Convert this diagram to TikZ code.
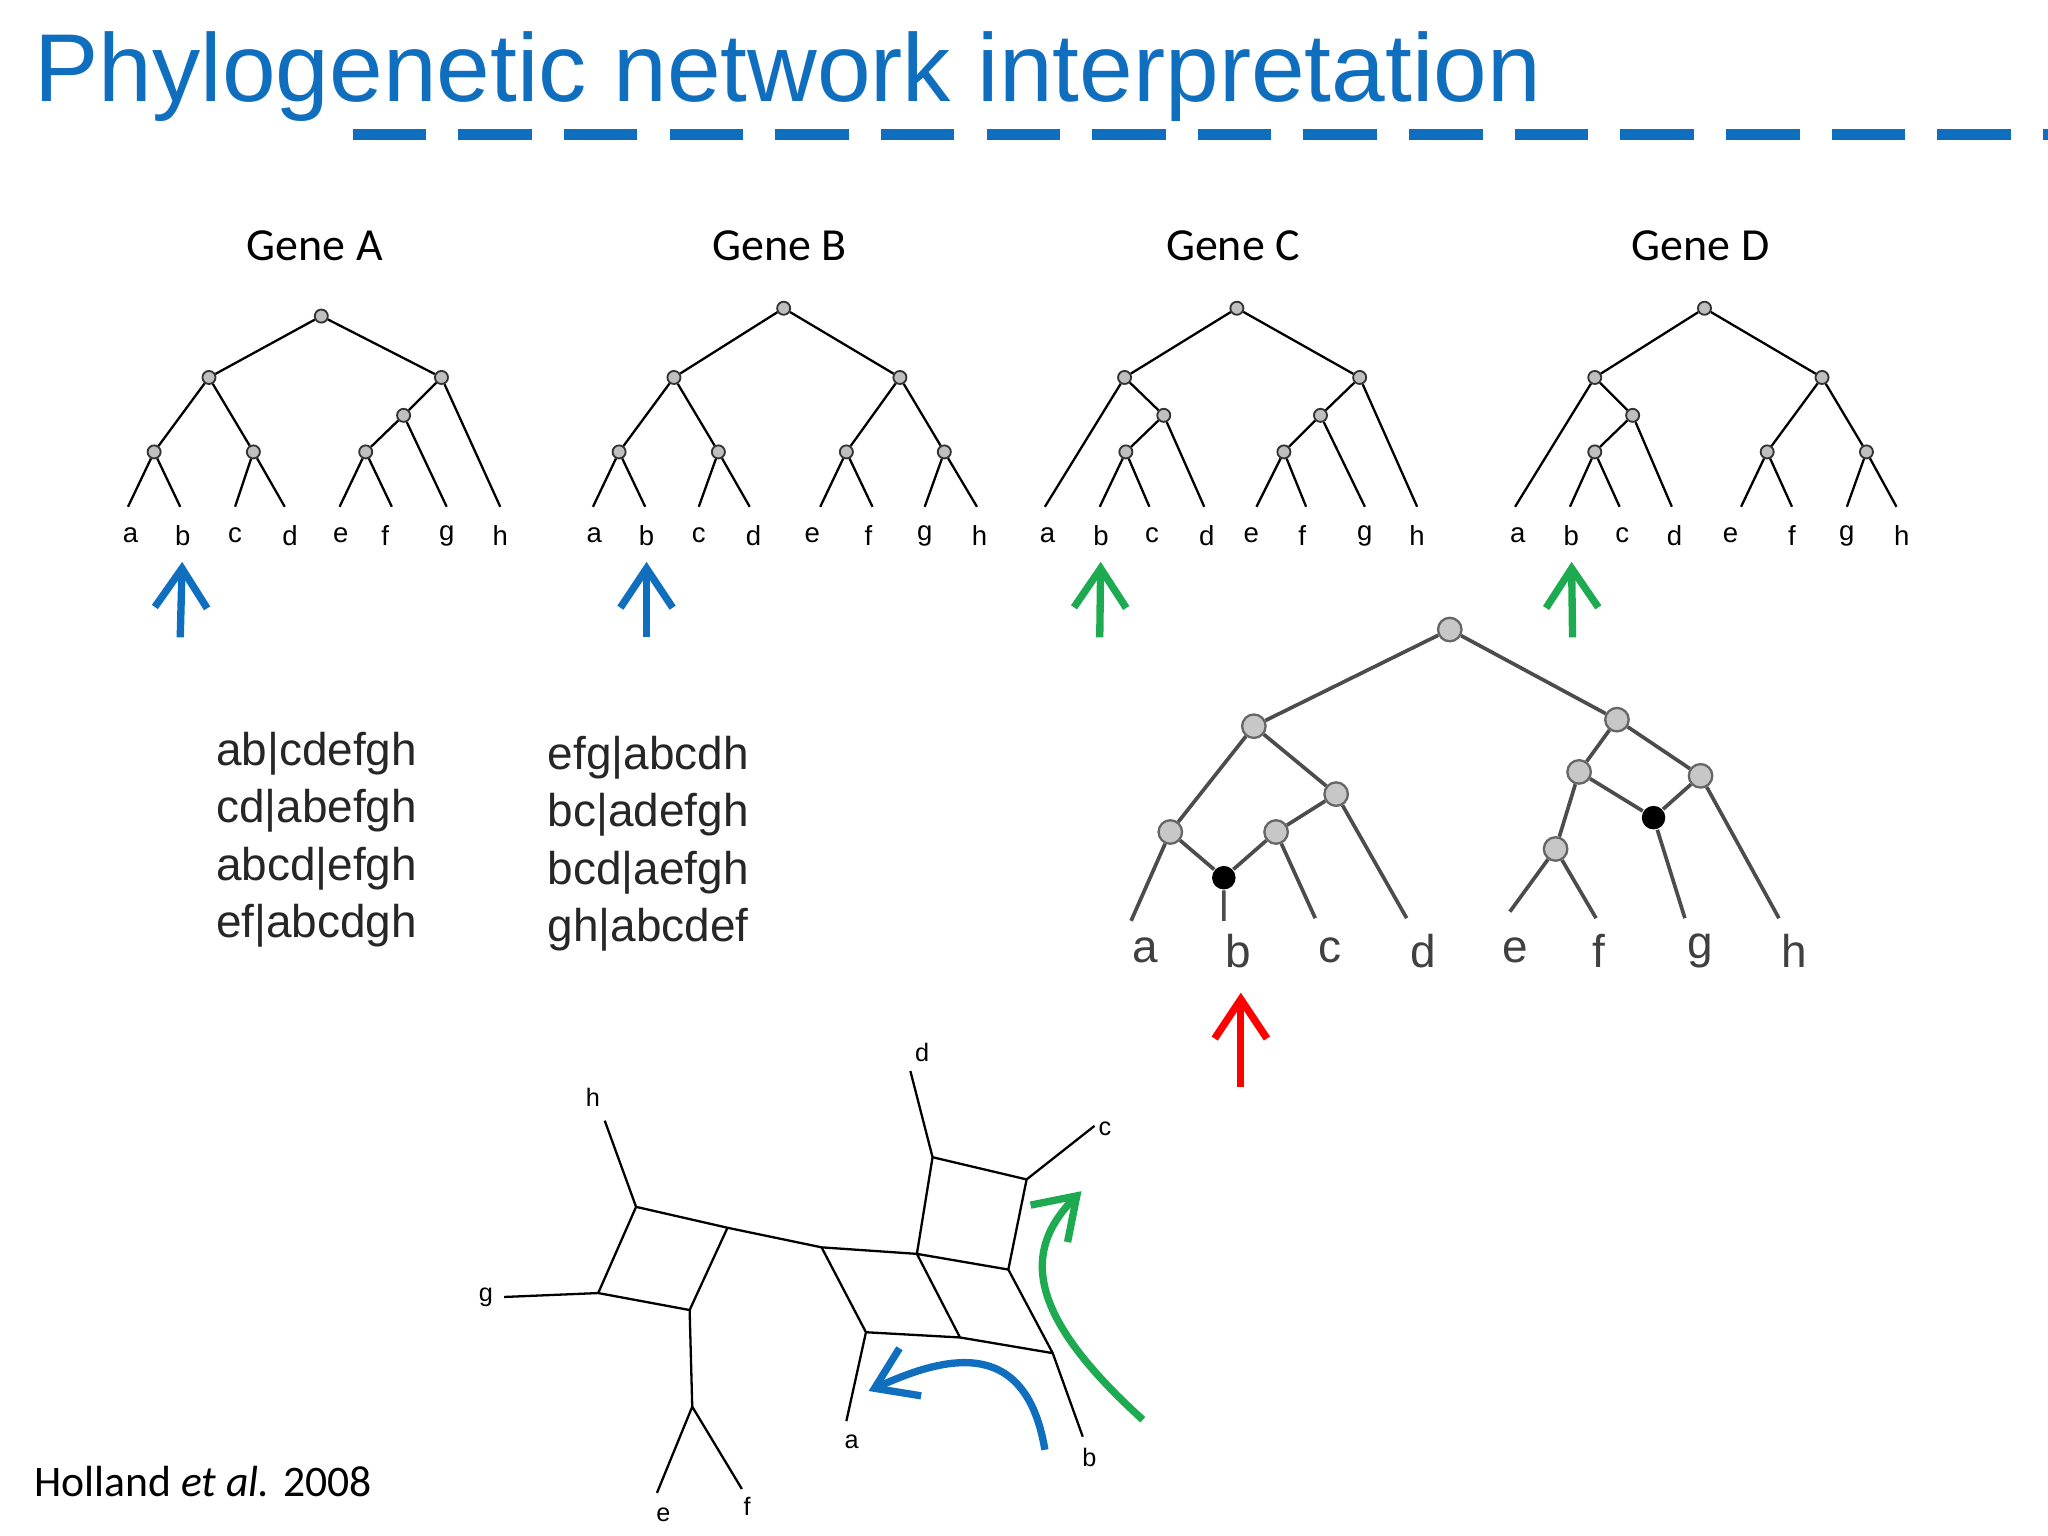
\documentclass[tikz,border=0pt]{standalone}
\usepackage{fontspec}
\setmainfont{Liberation Sans}
\newfontfamily\carl{Carlito}
\usetikzlibrary{arrows.meta}
\definecolor{tblue}{RGB}{16,110,190}
\definecolor{tgreen}{RGB}{30,170,80}
\begin{document}
\begin{tikzpicture}[x=0.01cm,y=-0.01cm,
 sn/.style={circle,draw=black!80,fill=black!25,inner sep=0,minimum size=10*0.01cm,line width=0.4pt},
 bn/.style={circle,draw=black!60,fill=black!22,inner sep=0,minimum size=18*0.01cm,line width=0.5pt},
 kn/.style={circle,fill=black,inner sep=0,minimum size=18*0.01cm},
 e/.style={line width=0.5pt},
 be/.style={line width=0.8pt,black!70},
 lf/.style={font=\fontsize{6}{7}\selectfont},
 blf/.style={font=\fontsize{10}{12}\selectfont},
 nl/.style={font=\fontsize{5.5}{6}\selectfont},
 up/.style={-{Straight Barb[length=3mm,width=4mm]},line width=1.6pt}]
\useasboundingbox (0,0) rectangle (1568,1176);
\node[anchor=base west,text=tblue,font=\fontsize{21}{24}\selectfont] (title) at (14,78) {Phylogenetic network interpretation};
\coordinate (dl1) at (270,103); \coordinate (dl2) at (1568,103);
\draw[tblue,line width=2.5pt,dash pattern=on 16pt off 7pt] (dl1)--(dl2);
\foreach \n/\x in {A/241,B/597,C/944,D/1302}
  \node[font=\carl\fontsize{10}{12}\selectfont] (g\n) at (\x,188) {Gene \n};
% Gene A
\node[sn] (A0) at (246,242) {}; \node[sn] (A1) at (160,289) {}; \node[sn] (A2) at (338,289) {};
\node[sn] (A3) at (118,346) {}; \node[sn] (A4) at (194,346) {}; \node[sn] (A5) at (309,318) {}; \node[sn] (A6) at (280,346) {};
\foreach \l/\x in {a/98,b/138,c/180,d/218,e/260,f/300,g/342,h/383} \coordinate (Al\l) at (\x,388);
\draw[e] (A0)--(A1) (A0)--(A2) (A1)--(A3) (A1)--(A4) (A3)--(Ala) (A3)--(Alb) (A4)--(Alc) (A4)--(Ald)
 (A2)--(A5) (A2)--(Alh) (A5)--(A6) (A5)--(Alg) (A6)--(Ale) (A6)--(Alf);
\foreach \l/\x in {a/100,b/140,c/180,d/222,e/261,f/295,g/342,h/383} \node[lf] (Ax\l) at (\x,410) {\l};
% Gene B
\node[sn] (B0) at (600,236) {}; \node[sn] (B1) at (516,289) {}; \node[sn] (B2) at (689,289) {};
\node[sn] (B3) at (474,346) {}; \node[sn] (B4) at (550,346) {}; \node[sn] (B5) at (648,346) {}; \node[sn] (B6) at (723,346) {};
\foreach \l/\x in {a/454,b/494,c/535,d/574,e/628,f/668,g/708,h/748} \coordinate (Bl\l) at (\x,388);
\draw[e] (B0)--(B1) (B0)--(B2) (B1)--(B3) (B1)--(B4) (B3)--(Bla) (B3)--(Blb) (B4)--(Blc) (B4)--(Bld)
 (B2)--(B5) (B2)--(B6) (B5)--(Ble) (B5)--(Blf) (B6)--(Blg) (B6)--(Blh);
\foreach \l/\x in {a/455,b/495,c/535,d/577,e/622,f/665,g/708,h/750} \node[lf] (Bx\l) at (\x,410) {\l};
% Gene C
\node[sn] (C0) at (947,236) {}; \node[sn] (C1) at (861,289) {}; \node[sn] (C2) at (1041,289) {};
\node[sn] (C3) at (891,318) {}; \node[sn] (C4) at (862,346) {}; \node[sn] (C5) at (1011,318) {}; \node[sn] (C6) at (983,346) {};
\foreach \l/\x in {a/800,b/842,c/880,d/922,e/962,f/1000,g/1045,h/1085} \coordinate (Cl\l) at (\x,388);
\draw[e] (C0)--(C1) (C0)--(C2) (C1)--(Cla) (C1)--(C3) (C3)--(C4) (C3)--(Cld) (C4)--(Clb) (C4)--(Clc)
 (C2)--(C5) (C2)--(Clh) (C5)--(C6) (C5)--(Clg) (C6)--(Cle) (C6)--(Clf);
\foreach \l/\x in {a/802,b/843,c/882,d/924,e/958,f/997,g/1045,h/1085} \node[lf] (Cx\l) at (\x,410) {\l};
% Gene D
\node[sn] (D0) at (1305,236) {}; \node[sn] (D1) at (1221,289) {}; \node[sn] (D2) at (1395,289) {};
\node[sn] (D3) at (1250,318) {}; \node[sn] (D4) at (1221,346) {}; \node[sn] (D5) at (1353,346) {}; \node[sn] (D6) at (1429,346) {};
\foreach \l/\x in {a/1160,b/1202,c/1240,d/1280,e/1333,f/1372,g/1414,h/1452} \coordinate (Dl\l) at (\x,388);
\draw[e] (D0)--(D1) (D0)--(D2) (D1)--(Dla) (D1)--(D3) (D3)--(D4) (D3)--(Dld) (D4)--(Dlb) (D4)--(Dlc)
 (D2)--(D5) (D2)--(D6) (D5)--(Dle) (D5)--(Dlf) (D6)--(Dlg) (D6)--(Dlh);
\foreach \l/\x in {a/1162,b/1203,c/1242,d/1282,e/1325,f/1372,g/1414,h/1456} \node[lf] (Dx\l) at (\x,410) {\l};
% arrows
\coordinate (u1) at (138,488); \coordinate (u2) at (495,488); \coordinate (u3) at (842,488); \coordinate (u4) at (1204,488); \coordinate (u5) at (950,832);
\draw[up,tblue] (u1)--(Axb); \draw[up,tblue] (u2)--(Bxb);
\draw[up,tgreen] (u3)--(Cxb); \draw[up,tgreen] (u4)--(Dxb);
% splits
\foreach \t/\y [count=\i] in {ab|cdefgh/577,cd|abefgh/621,abcd|efgh/665,ef|abcdgh/709}
  \node[anchor=west,font=\fontsize{10}{12}\selectfont,text=black!85] (s\i) at (153,\y) {\t};
\foreach \t/\y [count=\i] in {efg|abcdh/580,bc|adefgh/624,bcd|aefgh/668,gh|abcdef/712}
  \node[anchor=west,font=\fontsize{10}{12}\selectfont,text=black!85] (t\i) at (407,\y) {\t};
% big network tree
\node[bn] (N0) at (1110,482) {}; \node[bn] (N1) at (960,556) {}; \node[bn] (N2) at (1238,551) {};
\node[bn] (N3) at (896,637) {}; \node[bn] (N4) at (1023,608) {}; \node[bn] (N5) at (977,637) {}; \node[kn] (N6) at (937,672) {};
\node[bn] (N7) at (1209,591) {}; \node[bn] (N8) at (1302,594) {}; \node[bn] (N9) at (1191,650) {}; \node[kn] (N10) at (1266,626) {};
\foreach \l/\x/\y in {a/866/705,b/937/705,c/1007/703,d/1077/703,e/1156/698,f/1222/703,g/1290/703,h/1362/703} \coordinate (Nl\l) at (\x,\y);
\draw[be] (N0)--(N1) (N0)--(N2) (N1)--(N3) (N1)--(N4) (N3)--(Nla) (N3)--(N6) (N4)--(N5) (N4)--(Nld) (N5)--(N6) (N5)--(Nlc) (N6)--(Nlb)
 (N2)--(N7) (N2)--(N8) (N7)--(N9) (N7)--(N10) (N8)--(N10) (N8)--(Nlh) (N9)--(Nle) (N9)--(Nlf) (N10)--(Nlg);
\foreach \l/\x in {a/877,b/948,c/1018,d/1090,e/1160,f/1224,g/1302,h/1374} \node[blf,text=black!75] (Nx\l) at (\x,728) {\l};
\draw[up,red] (u5)--(950,760);
% split network
\foreach \n/\x/\y in {p1/487/924,p2/557/940,p3/528/1003,p4/458/990,p5/530/1077,q1/629/955,q2/702/960,q3/663/1020,q4/735/1024,q5/772/972,q6/806/1036,r1/714/886,r2/786/903,
 th/463/858,tg/386/993,te/503/1143,tf/568/1140,td/697/820,tc/838/862,ta/648/1088,tb/829/1100} \coordinate (\n) at (\x,\y);
\draw[e] (th)--(p1) (p1)--(p2) (p1)--(p4) (p4)--(p3) (p2)--(p3) (tg)--(p4) (p3)--(p5) (p5)--(te) (p5)--(tf)
 (p2)--(q1) (q1)--(q2) (q1)--(q3) (q2)--(q4) (q3)--(q4) (q2)--(q5) (q4)--(q6) (q5)--(q6)
 (r1)--(q2) (r2)--(q5) (r1)--(r2) (r1)--(td) (r2)--(tc) (q3)--(ta) (q6)--(tb);
\foreach \l/\x/\y in {h/454/840,g/372/993,e/508/1160,f/572/1153,d/706/806,c/846/864,a/652/1104,b/834/1116} \node[nl] (L\l) at (\x,\y) {\l};
\coordinate (ba0) at (800,1110); \coordinate (ba1) at (665,1065);
\draw[tblue,line width=1.6pt,-{Straight Barb[length=3mm,width=4mm]}] (ba0) .. controls (785,1020) and (720,1040) .. (ba1);
\coordinate (ga0) at (875,1087); \coordinate (ga1) at (828,912);
\draw[tgreen,line width=1.6pt,-{Straight Barb[length=3mm,width=4mm]}] (ga0) .. controls (790,1010) and (780,960) .. (ga1);
\node[anchor=base west,font=\carl\fontsize{9.5}{11}\selectfont] (ref) at (14,1146) {Holland \textit{et al.} 2008};
\end{tikzpicture}
\end{document}
